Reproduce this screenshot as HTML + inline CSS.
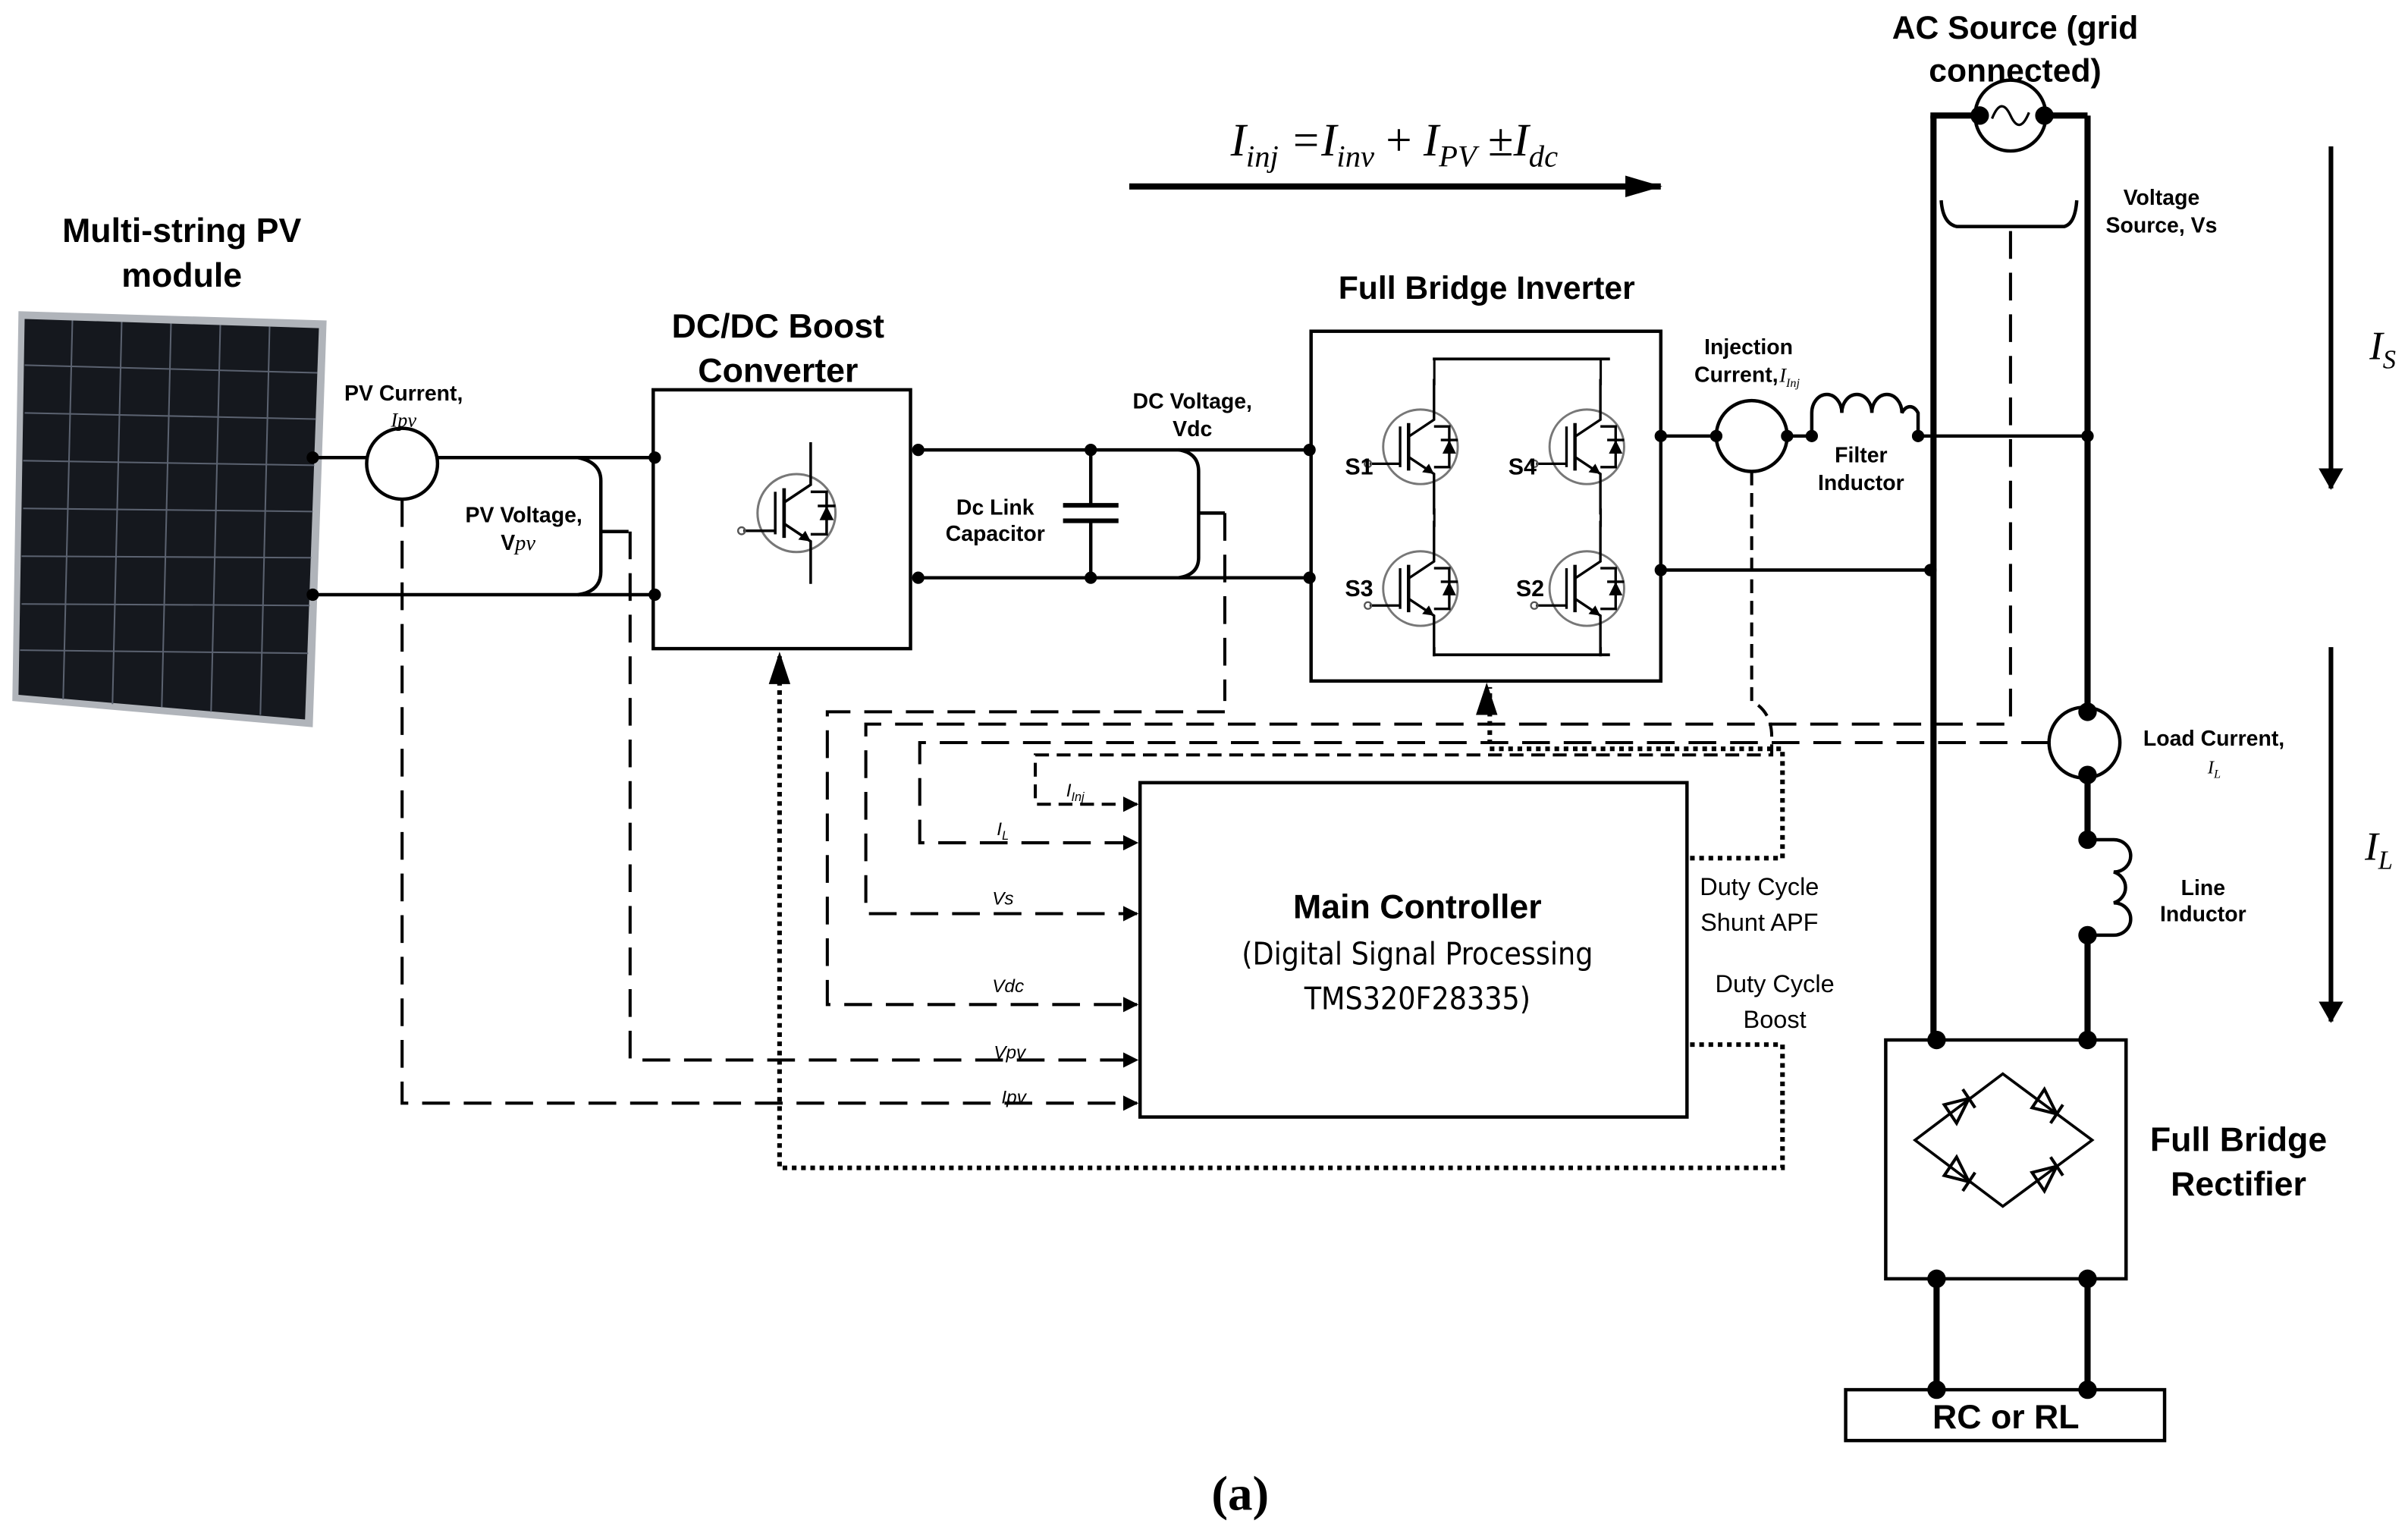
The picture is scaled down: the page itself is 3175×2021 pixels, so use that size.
<!DOCTYPE html>
<html><head><meta charset="utf-8"><style>
html,body{margin:0;padding:0;background:#fff;}
svg{display:block;}
text{font-family:"Liberation Sans",sans-serif;fill:#000;}
.n{font-family:"Liberation Sans Narrow","Liberation Sans",sans-serif;font-weight:bold;}
.s{font-family:"Liberation Serif",serif;font-style:italic;}
</style></head><body>
<svg width="3175" height="2021" viewBox="0 0 1563 995" preserveAspectRatio="none" xmlns="http://www.w3.org/2000/svg">
<defs>
<g id="igbt">
<circle cx="0" cy="0" r="22" fill="none" stroke="#777" stroke-width="1.3"/>
<line x1="-12" y1="-12" x2="-12" y2="12" stroke="#000" stroke-width="1.5"/>
<line x1="-30" y1="10" x2="-12" y2="10" stroke="#000" stroke-width="1.5"/>
<circle cx="-31" cy="10" r="2" fill="none" stroke="#555"/>
<line x1="-7" y1="-14" x2="-7" y2="14" stroke="#000" stroke-width="2"/>
<polyline points="-7,-6 8,-16 8,-40" fill="none" stroke="#000" stroke-width="1.5"/>
<polyline points="-7,6 8,16 8,40" fill="none" stroke="#000" stroke-width="1.5"/>
<polygon points="8,16 1,15 5,10" fill="#000"/>
<polyline points="8,-12 17,-12 17,12 8,12" fill="none" stroke="#000" stroke-width="1.5"/>
<polygon points="13,4 21,4 17,-4" fill="#000"/>
<line x1="12" y1="-4" x2="22" y2="-4" stroke="#000" stroke-width="1.5"/>
</g>
<marker id="ar" markerWidth="10" markerHeight="10" refX="9" refY="5" orient="auto" markerUnits="userSpaceOnUse"><path d="M0,0 L10,5 L0,10z" fill="#000"/></marker>
<marker id="ar2" markerWidth="14" markerHeight="16" refX="13" refY="8" orient="auto" markerUnits="userSpaceOnUse"><path d="M0,0 L14,8 L0,16z" fill="#000"/></marker>
<marker id="ar3" markerWidth="24" markerHeight="14" refX="23" refY="7" orient="auto" markerUnits="userSpaceOnUse"><path d="M0,0 L24,7 L0,14z" fill="#000"/></marker>
</defs>

<!-- PV module -->
<text class="n" x="118" y="157" font-size="22" text-anchor="middle">Multi-string PV</text>
<text class="n" x="118" y="186" font-size="22" text-anchor="middle">module</text>
<polygon points="12,202 212,208 203,472 8,455" fill="#b0b4ba"/>
<polygon points="16,207 207,213 198,467 12,451" fill="#15181e"/>
<g stroke="#5b6270" stroke-width="1">
<line x1="47" y1="208" x2="41" y2="454"/><line x1="79" y1="209" x2="73" y2="457"/><line x1="111" y1="210" x2="105" y2="459"/><line x1="143" y1="211" x2="137" y2="462"/><line x1="175" y1="212" x2="169" y2="464"/>
<line x1="16" y1="237" x2="206" y2="242"/><line x1="16" y1="268" x2="205" y2="272"/><line x1="15" y1="299" x2="204" y2="302"/><line x1="15" y1="330" x2="203" y2="332"/><line x1="14" y1="361" x2="202" y2="362"/><line x1="14" y1="392" x2="201" y2="393"/><line x1="13" y1="422" x2="200" y2="424"/>
</g>

<g stroke="#000" stroke-width="2.2" fill="none">
<line x1="203" y1="297" x2="238" y2="297"/><line x1="284" y1="297" x2="425" y2="297"/>
<line x1="203" y1="386" x2="425" y2="386"/>
<circle cx="261" cy="301" r="23"/>
<path d="M375,297 Q390,300 390,312 L390,371 Q390,384 375,386"/>
<line x1="390" y1="345" x2="408" y2="345"/>
<rect x="424" y="253" width="167" height="168"/>
<line x1="596" y1="292" x2="850" y2="292"/><line x1="596" y1="375" x2="850" y2="375"/>
<line x1="708" y1="292" x2="708" y2="328"/><line x1="708" y1="338" x2="708" y2="375"/>
<line x1="690" y1="328" x2="726" y2="328" stroke-width="3"/><line x1="690" y1="338" x2="726" y2="338" stroke-width="3"/>
<path d="M765,292 Q778,294 778,306 L778,362 Q778,373 765,375"/>
<line x1="778" y1="333" x2="795" y2="333"/>
<rect x="851" y="215" width="227" height="227"/>
<line x1="930" y1="233" x2="1045" y2="233" stroke-width="1.8"/><line x1="930" y1="425" x2="1045" y2="425" stroke-width="1.8"/>
<line x1="1078" y1="283" x2="1114" y2="283"/><line x1="1160" y1="283" x2="1176" y2="283"/>
<circle cx="1137" cy="283" r="23"/>
<path d="M1176,283 L1176,268 A9.75,12 0 0 1 1195.5,268 A9.75,12 0 0 1 1215,268 A9.75,12 0 0 1 1234.5,268 A7,12 0 0 1 1245,268 L1245,283"/>
<line x1="1245" y1="283" x2="1355" y2="283"/>
<line x1="1078" y1="370" x2="1253" y2="370"/>
<line x1="1253" y1="75" x2="1282" y2="75" stroke-width="4"/><line x1="1328" y1="75" x2="1355" y2="75" stroke-width="4"/>
<circle cx="1305" cy="75" r="23"/>
<path d="M1293,77 Q1299,62 1305,75 Q1311,88 1317,73" stroke-width="1.6"/>
<line x1="1255" y1="75" x2="1255" y2="675" stroke-width="4"/>
<line x1="1355" y1="75" x2="1355" y2="460" stroke-width="4"/>
<path d="M1260,130 Q1261,145 1270,147 L1340,147 Q1347,145 1348,130"/>
<circle cx="1353" cy="482" r="23"/>
<line x1="1355" y1="505" x2="1355" y2="545" stroke-width="4"/>
<path d="M1355,545 L1372,545 A11,10.5 0 0 1 1372,566 A11,10.5 0 0 1 1372,586 A11,10.5 0 0 1 1372,607 L1355,607"/>
<line x1="1355" y1="607" x2="1355" y2="675" stroke-width="4"/>
<rect x="1224" y="675" width="156" height="155"/>
<line x1="1257" y1="830" x2="1257" y2="902" stroke-width="4"/><line x1="1355" y1="830" x2="1355" y2="902" stroke-width="4"/>
<rect x="1198" y="902" width="207" height="33"/>
<path d="M1243,740 L1300,697 L1358,740 L1300,783 Z" stroke-width="1.8"/>
</g>
<g stroke="#000" stroke-width="2" fill="none">
<polygon points="1278,713 1270,729 1262,717"/><line x1="1282" y1="719" x2="1274" y2="707"/>
<polygon points="1335,723 1319,719 1327,707"/><line x1="1331" y1="729" x2="1339" y2="717"/>
<polygon points="1278,767 1262,763 1270,751"/><line x1="1274" y1="773" x2="1282" y2="761"/>
<polygon points="1335,757 1327,773 1319,761"/><line x1="1339" y1="763" x2="1331" y2="751"/>
</g>

<use href="#igbt" transform="translate(517,333) scale(1.15)"/>
<use href="#igbt" transform="translate(922,290) scale(1.1)"/>
<use href="#igbt" transform="translate(1030,290) scale(1.1)"/>
<use href="#igbt" transform="translate(922,382) scale(1.1)"/>
<use href="#igbt" transform="translate(1030,382) scale(1.1)"/>
<g stroke="#000" stroke-width="1.5"><line x1="931" y1="233" x2="931" y2="250"/><line x1="1039" y1="233" x2="1039" y2="250"/><line x1="931" y1="330" x2="931" y2="342"/><line x1="1039" y1="330" x2="1039" y2="342"/><line x1="931" y1="420" x2="931" y2="425"/><line x1="1039" y1="420" x2="1039" y2="425"/></g>

<g fill="#000">
<circle cx="203" cy="297" r="4"/><circle cx="203" cy="386" r="4"/><circle cx="425" cy="297" r="4"/><circle cx="425" cy="386" r="4"/>
<circle cx="596" cy="292" r="4"/><circle cx="596" cy="375" r="4"/><circle cx="708" cy="292" r="4"/><circle cx="708" cy="375" r="4"/>
<circle cx="850" cy="292" r="4"/><circle cx="850" cy="375" r="4"/>
<circle cx="1078" cy="283" r="4"/><circle cx="1078" cy="370" r="4"/><circle cx="1114" cy="283" r="4"/><circle cx="1160" cy="283" r="4"/><circle cx="1176" cy="283" r="4"/><circle cx="1245" cy="283" r="4"/>
<circle cx="1355" cy="283" r="4"/><circle cx="1253" cy="370" r="4"/>
<circle cx="1285" cy="75" r="6"/><circle cx="1327" cy="75" r="6"/>
<circle cx="1355" cy="462" r="6"/><circle cx="1355" cy="503" r="6"/><circle cx="1355" cy="545" r="6"/><circle cx="1355" cy="607" r="6"/>
<circle cx="1257" cy="675" r="6"/><circle cx="1355" cy="675" r="6"/><circle cx="1257" cy="830" r="6"/><circle cx="1355" cy="830" r="6"/>
<circle cx="1257" cy="902" r="6"/><circle cx="1355" cy="902" r="6"/>
</g>

<line x1="733" y1="121" x2="1078" y2="121" stroke="#000" stroke-width="4" marker-end="url(#ar3)"/>
<text class="s" x="905" y="101" font-size="30" text-anchor="middle">I<tspan font-size="20" dy="7">inj</tspan><tspan dy="-7"> =I</tspan><tspan font-size="20" dy="7">inv</tspan><tspan dy="-7" font-style="normal"> + </tspan><tspan>I</tspan><tspan font-size="20" dy="7">PV</tspan><tspan dy="-7" font-style="normal"> ±</tspan><tspan>I</tspan><tspan font-size="20" dy="7">dc</tspan></text>
<line x1="1513" y1="95" x2="1513" y2="317" stroke="#000" stroke-width="3" marker-end="url(#ar2)"/>
<line x1="1513" y1="420" x2="1513" y2="663" stroke="#000" stroke-width="3" marker-end="url(#ar2)"/>
<text class="s" x="1538" y="233" font-size="26">I<tspan font-size="17" dy="6">S</tspan></text>
<text class="s" x="1535" y="558" font-size="26">I<tspan font-size="17" dy="6">L</tspan></text>

<rect x="740" y="508" width="355" height="217" fill="none" stroke="#000" stroke-width="2.2"/>
<text class="n" x="920" y="596" font-size="22" text-anchor="middle">Main Controller</text>
<text x="920" y="626" font-size="20" text-anchor="middle" style="font-family:'DejaVu Sans Condensed','Liberation Sans',sans-serif">(Digital Signal Processing</text>
<text x="920" y="655" font-size="20" text-anchor="middle" style="font-family:'DejaVu Sans Condensed','Liberation Sans',sans-serif">TMS320F28335)</text>
<g font-size="16" text-anchor="middle" style="font-family:'DejaVu Sans Condensed','Liberation Sans',sans-serif">
<text x="1142" y="581">Duty Cycle</text><text x="1142" y="604">Shunt APF</text>
<text x="1152" y="644">Duty Cycle</text><text x="1152" y="667">Boost</text>
</g>

<g stroke="#000" stroke-width="2" fill="none" stroke-dasharray="18,9">
<polyline points="261,324 261,716 738,716" marker-end="url(#ar)"/>
<polyline points="409,345 409,688 738,688" marker-end="url(#ar)"/>
<polyline points="795,333 795,455"/>
<polyline points="795,462 537,462 537,652 738,652" marker-end="url(#ar)"/>
<polyline points="1305,150 1305,470 562,470 562,593 738,593" marker-end="url(#ar)"/>
<polyline points="1330,482 597,482 597,547 738,547" marker-end="url(#ar)"/>
</g>
<g stroke="#000" stroke-width="2" fill="none" stroke-dasharray="9,5">
<path d="M1137,306 L1137,455 Q1150,462 1150,478 L1150,490 L672,490 L672,522 L738,522" marker-end="url(#ar)"/>
</g>
<g stroke="#000" stroke-width="3" fill="none" stroke-dasharray="3,3">
<polyline points="1097,557 1157,557 1157,486 967,486 967,446"/>
<polyline points="1097,678 1157,678 1157,758 506,758 506,426"/>
</g>
<path d="M958,464 L965,443 L972,464z" fill="#000"/>
<path d="M499,444 L506,423 L513,444z" fill="#000"/>
<g class="s" font-size="12">
<text x="692" y="517">I<tspan font-size="8" dy="3">Inj</tspan></text>
<text x="647" y="542">I<tspan font-size="8" dy="3">L</tspan></text>
<text x="644" y="587">Vs</text>
<text x="644" y="644">Vdc</text>
<text x="645" y="687">Vpv</text>
<text x="650" y="716">Ipv</text>
</g>

<g class="n" font-size="14" text-anchor="middle">
<text x="262" y="260">PV Current,</text>
<text x="340" y="339">PV Voltage,</text>
<text x="774" y="265">DC Voltage,</text><text x="774" y="283">Vdc</text>
<text x="646" y="334">Dc Link</text><text x="646" y="351">Capacitor</text>
<text x="1135" y="230">Injection</text><text x="1127" y="248">Current, </text>
<text x="1208" y="300">Filter</text><text x="1208" y="318">Inductor</text>
<text x="1403" y="133">Voltage</text><text x="1403" y="151">Source, Vs</text>
<text x="1437" y="484">Load Current,</text>
<text x="1430" y="581">Line</text><text x="1430" y="598">Inductor</text>
</g>
<text class="s" x="262" y="277" font-size="13" text-anchor="middle">Ipv</text>
<text x="325" y="357" font-size="14" class="n">V<tspan class="s" font-weight="normal">pv</tspan></text>
<text class="s" x="1155" y="248" font-size="13">I<tspan font-size="8" dy="3">Inj</tspan></text>
<text class="s" x="1433" y="502" font-size="12">I<tspan font-size="8" dy="3">L</tspan></text>
<g class="n" font-size="15"><text x="873" y="308">S1</text><text x="979" y="308">S4</text><text x="873" y="387">S3</text><text x="984" y="387">S2</text></g>

<g class="n" text-anchor="middle">
<text x="505" y="219" font-size="22">DC/DC Boost</text><text x="505" y="248" font-size="22">Converter</text>
<text x="965" y="194" font-size="21">Full Bridge Inverter</text>
<text x="1308" y="25" font-size="21">AC Source (grid</text><text x="1308" y="53" font-size="21">connected)</text>
</g>
<text x="1453" y="747" font-size="22" font-weight="bold" text-anchor="middle">Full Bridge</text>
<text x="1453" y="776" font-size="22" font-weight="bold" text-anchor="middle">Rectifier</text>
<text x="1302" y="927" font-size="22" font-weight="bold" text-anchor="middle">RC or RL</text>
<text x="805" y="980" font-size="32" font-weight="bold" text-anchor="middle" style="font-family:'Liberation Serif',serif">(a)</text>
</svg>
</body></html>
